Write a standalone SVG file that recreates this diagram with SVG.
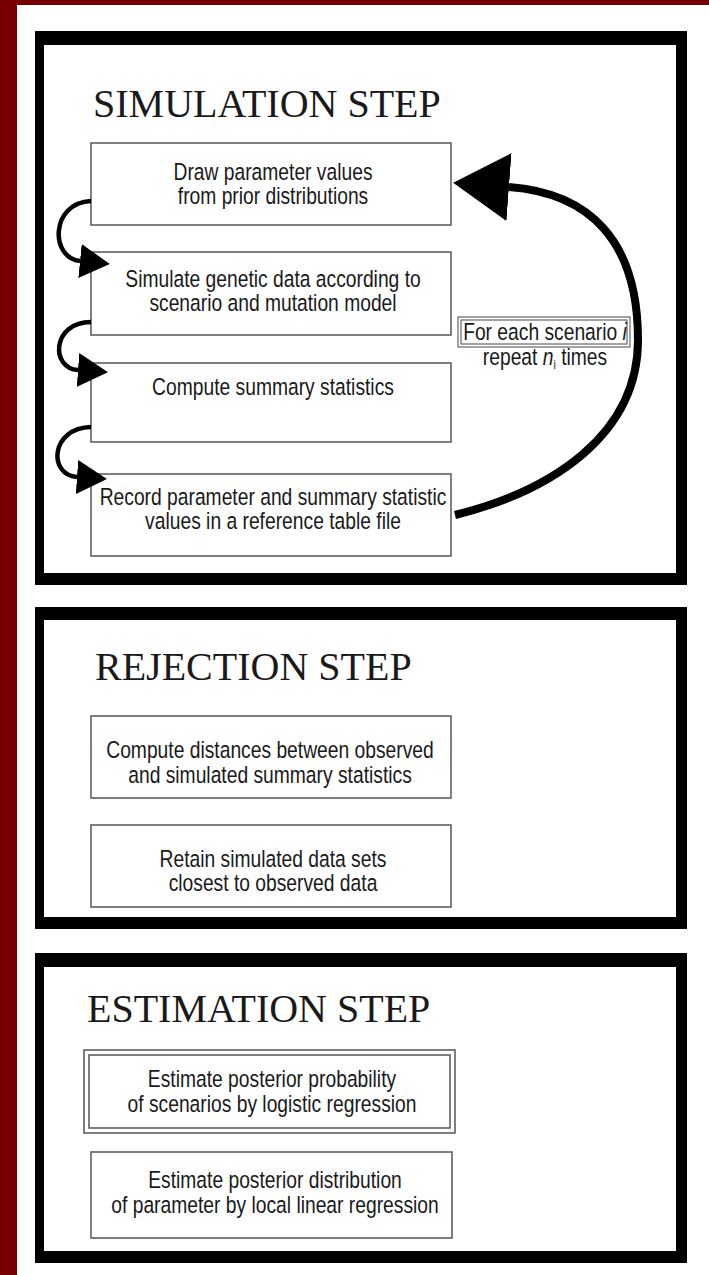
<svg xmlns="http://www.w3.org/2000/svg" width="709" height="1275" viewBox="0 0 709 1275">
<defs>
<style>
.frame{fill:#000}
.inner{fill:#fff}
.box{fill:#fff;stroke:#555;stroke-width:1.5}
.lbl{fill:#fff;stroke:#666;stroke-width:1.2}
.t{font-family:"Liberation Sans",Arial,sans-serif;font-size:23.5px;fill:#1a1a1a;text-anchor:middle}
.h{font-family:"Liberation Serif","Times New Roman",serif;font-size:40px;fill:#1a1a1a}
.conn{fill:none;stroke:#000}
.it{font-style:italic}
</style>
<marker id="ah" markerUnits="userSpaceOnUse" markerWidth="30" markerHeight="34" viewBox="0 0 30 34" refX="0" refY="17" orient="auto"><path d="M0,0 L30,17 L0,34 z" fill="#000"/></marker>
<marker id="ahBig" markerUnits="userSpaceOnUse" markerWidth="56" markerHeight="68" viewBox="0 0 56 68" refX="0" refY="34" orient="auto"><path d="M0,0 L56,34 L0,68 z" fill="#000"/></marker>
</defs>
<rect x="0" y="0" width="709" height="1275" fill="#fff"/>
<rect x="0" y="0" width="709" height="5" fill="#780000"/>
<rect x="0" y="0" width="17" height="1275" fill="#780000"/>

<g id="simulation-step">
<rect class="frame" x="35" y="31" width="652" height="554"/>
<rect class="inner" x="44" y="45" width="632" height="528"/>
<text class="h" x="93" y="117">SIMULATION STEP</text>
</g>
<g id="rejection-step">
<rect class="frame" x="35" y="607" width="652" height="322"/>
<rect class="inner" x="44" y="620" width="632" height="297"/>
<text class="h" x="95" y="680">REJECTION STEP</text>
</g>
<g id="estimation-step">
<rect class="frame" x="35" y="953" width="652" height="310"/>
<rect class="inner" x="44" y="967" width="632" height="284"/>
<text class="h" x="87" y="1022">ESTIMATION STEP</text>
</g>

<g id="draw-params">
<rect class="box" x="91" y="143" width="360" height="82"/>
<text class="t" transform="matrix(0.82 0 0 1 273 0)"><tspan x="0" y="180">Draw parameter values</tspan><tspan x="0" y="204">from prior distributions</tspan></text>
</g>
<g id="simulate-data">
<rect class="box" x="91" y="252" width="360" height="83"/>
<text class="t" transform="matrix(0.82 0 0 1 273 0)"><tspan x="0" y="287">Simulate genetic data according to</tspan><tspan x="0" y="311">scenario and mutation model</tspan></text>
</g>
<g id="compute-stats">
<rect class="box" x="91" y="363" width="360" height="79"/>
<text class="t" transform="matrix(0.82 0 0 1 273 0)"><tspan x="0" y="395">Compute summary statistics</tspan></text>
</g>
<g id="record-values">
<rect class="box" x="91" y="474" width="360" height="82"/>
<text class="t" transform="matrix(0.82 0 0 1 273 0)"><tspan x="0" y="505">Record parameter and summary statistic</tspan><tspan x="0" y="529">values in a reference table file</tspan></text>
</g>
<g id="repeat-label">
<rect class="lbl" x="458" y="317" width="172" height="30"/>
<rect class="lbl" x="461" y="320" width="166" height="24"/>
<text class="t" transform="matrix(0.82 0 0 1 545 0)"><tspan x="0" y="340">For each scenario <tspan class="it">i</tspan></tspan><tspan x="0" y="365">repeat <tspan class="it">n</tspan><tspan font-size="13px" baseline-shift="-4">i</tspan> times</tspan></text>
</g>

<g id="compute-distances">
<rect class="box" x="91" y="716" width="360" height="82"/>
<text class="t" transform="matrix(0.82 0 0 1 270 0)"><tspan x="0" y="758">Compute distances between observed</tspan><tspan x="0" y="783">and simulated summary statistics</tspan></text>
</g>
<g id="retain-sets">
<rect class="box" x="91" y="825" width="360" height="82"/>
<text class="t" transform="matrix(0.82 0 0 1 273 0)"><tspan x="0" y="867">Retain simulated data sets</tspan><tspan x="0" y="891">closest to observed data</tspan></text>
</g>

<g id="estimate-probability">
<rect class="box" x="84" y="1050" width="371" height="83"/>
<rect class="box" x="89" y="1055" width="361" height="73"/>
<text class="t" transform="matrix(0.82 0 0 1 272 0)"><tspan x="0" y="1087">Estimate posterior probability</tspan><tspan x="0" y="1112">of scenarios by logistic regression</tspan></text>
</g>
<g id="estimate-distribution">
<rect class="box" x="91" y="1152" width="361" height="86"/>
<text class="t" transform="matrix(0.82 0 0 1 275 0)"><tspan x="0" y="1188">Estimate posterior distribution</tspan><tspan x="0" y="1213">of parameter by local linear regression</tspan></text>
</g>

<g id="connectors">
<path class="conn" stroke-width="4.5" d="M91,201 C50,203 50,258 80,261" marker-end="url(#ah)"/>
<path class="conn" stroke-width="4.5" d="M91,322 C52,322 50,368 78,370" marker-end="url(#ah)"/>
<path class="conn" stroke-width="4.5" d="M91,427 C50,428 48,475 77,477" marker-end="url(#ah)"/>
<path class="conn" stroke-width="8" d="M455,515 C552,491 638,435 638,340 C638,240 589,193 509,187" marker-end="url(#ahBig)"/>
</g>
</svg>
